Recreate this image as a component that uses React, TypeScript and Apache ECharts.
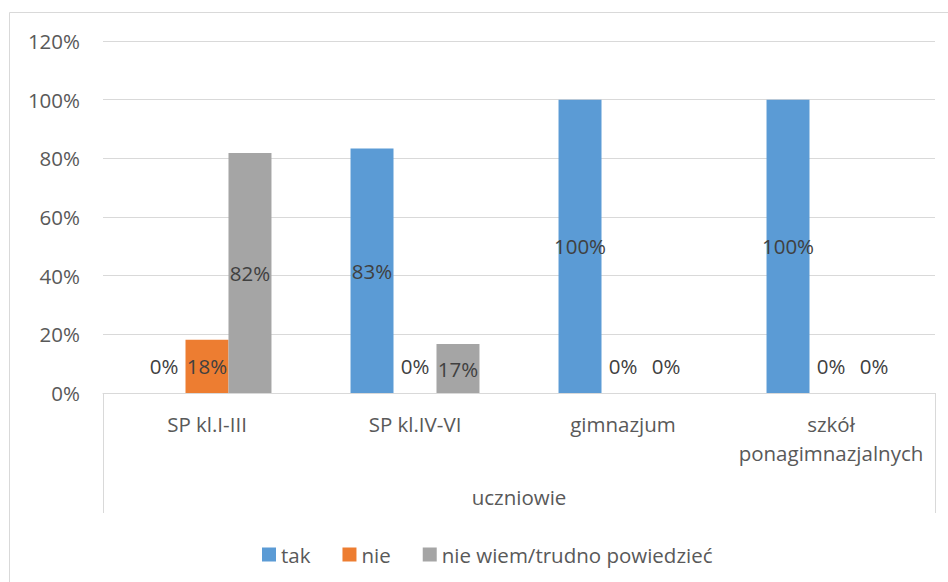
import React, { useEffect, useRef } from "react";
import * as echarts from "echarts";

const categories = ["SP kl.I-III", "SP kl.IV-VI", "gimnazjum", "szkół\nponagimnazjalnych"];
const groupLabel = "uczniowie";
const seriesNames = ["tak", "nie", "nie wiem/trudno powiedzieć"];
const takValues = [0, 83.33, 100, 100];
const nieValues = [18.18, 0, 0, 0];
const nieWiemValues = [81.82, 16.67, 0, 0];
const yTicks = [0, 20, 40, 60, 80, 100, 120];

const colors = ["#5B9BD5", "#ED7D31", "#A5A5A5"];
const FONT = "'Open Sans', sans-serif";
const TEXT = "#595959";

function buildData(values: number[]) {
  return values.map((v) =>
    v === 0 ? { value: v, label: { offset: [0, -27] } } : { value: v }
  );
}

export default function App() {
  const ref = useRef<HTMLDivElement>(null);
  useEffect(() => {
    document.body.style.margin = "0";
    if (!ref.current) return;
    const chart = echarts.init(ref.current, undefined, { renderer: "svg" });
    const allSeries = [takValues, nieValues, nieWiemValues];
    chart.setOption({
      animation: false,
      textStyle: { fontFamily: FONT },
      grid: { left: 103, right: 13, top: 41, bottom: 189, containLabel: false },
      legend: {
        data: seriesNames,
        left: 257,
        top: 539,
        icon: "rect",
        itemWidth: 14,
        itemHeight: 14,
        itemGap: 32,
        textStyle: { color: TEXT, fontSize: 20.5, fontFamily: FONT },
      },
      xAxis: {
        type: "category",
        data: categories,
        axisLine: { show: true, lineStyle: { color: "#D9D9D9", width: 1 } },
        axisTick: { show: false },
        axisLabel: {
          color: TEXT,
          fontSize: 20.5,
          fontFamily: FONT,
          lineHeight: 29,
          margin: 16,
          interval: 0,
        },
      },
      yAxis: {
        type: "value",
        min: yTicks[0],
        max: yTicks[yTicks.length - 1],
        interval: 20,
        axisLine: { show: false },
        axisTick: { show: false },
        splitLine: { lineStyle: { color: "#D9D9D9", width: 1 } },
        axisLabel: {
          formatter: "{value}%",
          color: TEXT,
          fontSize: 20.5,
          fontFamily: FONT,
          margin: 23,
        },
      },
      series: allSeries.map((vals, i) => ({
        name: seriesNames[i],
        type: "bar",
        data: buildData(vals),
        barGap: "0%",
        barCategoryGap: "38%",
        itemStyle: { color: colors[i] },
        label: {
          show: true,
          position: "inside",
          color: "#404040",
          fontSize: 20.5,
          fontFamily: FONT,
          formatter: (p: any) => Math.round(p.value) + "%",
        },
      })),
      graphic: [
        {
          type: "rect",
          shape: { x: 9.5, y: 12.5, width: 1200, height: 1200 },
          style: { fill: "none", stroke: "#D9D9D9", lineWidth: 1 },
          silent: true,
        },
        {
          type: "line",
          shape: { x1: 103.5, y1: 393, x2: 103.5, y2: 513 },
          style: { stroke: "#D9D9D9", lineWidth: 1 },
        },
        {
          type: "line",
          shape: { x1: 935.5, y1: 393, x2: 935.5, y2: 513 },
          style: { stroke: "#D9D9D9", lineWidth: 1 },
        },
        {
          type: "text",
          x: 519,
          y: 497,
          style: {
            text: groupLabel,
            fill: TEXT,
            font: `20.5px ${FONT}`,
            textAlign: "center",
            textVerticalAlign: "middle",
          },
        },
      ],
    });
    return () => chart.dispose();
  }, []);
  return <div ref={ref} style={{ width: 948, height: 582 }} />;
}
